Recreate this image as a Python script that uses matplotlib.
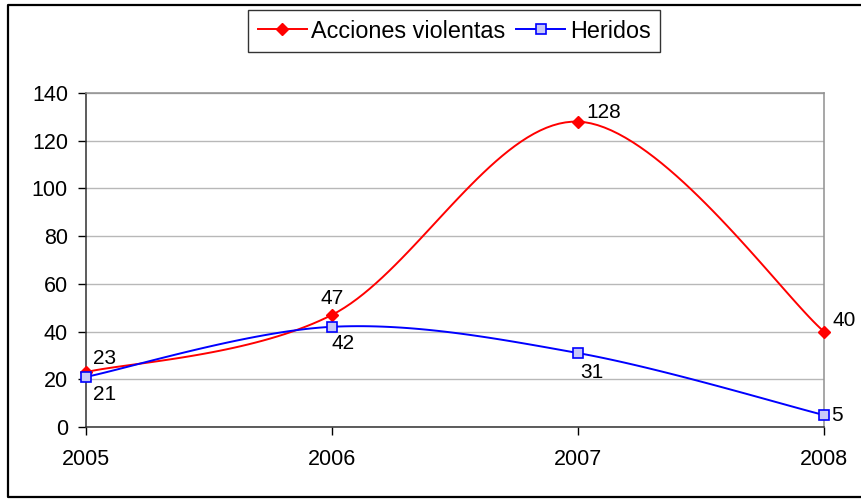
import numpy as np
import matplotlib.pyplot as plt
from matplotlib.lines import Line2D

plt.rcParams['font.family'] = ['Liberation Sans', 'DejaVu Sans']

years = [2005, 2006, 2007, 2008]
acciones = [23, 47, 128, 40]
heridos = [21, 42, 31, 5]


def smooth(xs, ys, n=40):
    # Excel-like smoothing: cubic Bezier segments with Catmull-Rom control points
    xs = np.asarray(xs, float)
    ys = np.asarray(ys, float)
    px = np.concatenate(([xs[0]], xs, [xs[-1]]))
    py = np.concatenate(([ys[0]], ys, [ys[-1]]))
    out_x, out_y = [], []
    t = np.linspace(0, 1, n)
    for i in range(1, len(xs)):
        p0 = np.array([px[i], py[i]])
        p3 = np.array([px[i + 1], py[i + 1]])
        c1 = p0 + (p3 - np.array([px[i - 1], py[i - 1]])) / 6
        c2 = p3 - (np.array([px[i + 2], py[i + 2]]) - p0) / 6
        for k in range(2):
            pts = ((1 - t) ** 3 * p0[k] + 3 * (1 - t) ** 2 * t * c1[k]
                   + 3 * (1 - t) * t ** 2 * c2[k] + t ** 3 * p3[k])
            (out_x if k == 0 else out_y).extend(pts)
    return out_x, out_y


W, H = 861, 499
fig = plt.figure(figsize=(W / 100, H / 100), dpi=100)
ax = fig.add_axes([86 / W, 1 - 427 / H, (824 - 86) / W, (427 - 93) / H])

# outer chart border (right side is cut off in the original)
bx = [900 / W, 8 / W, 8 / W, 900 / W]
by = [1 - 5 / H, 1 - 5 / H, 1 - 497 / H, 1 - 497 / H]
fig.add_artist(Line2D(bx, by, transform=fig.transFigure, color='black', lw=1.6))

red = '#ff0000'
blue = '#0000ff'
sq_fill = '#c8c8f8'

sx, sy = smooth(years, acciones)
ax.plot(sx, sy, color=red, lw=1.4, zorder=3)
ax.plot(years, acciones, ls='none', marker='D', ms=6.6, color=red, zorder=4, clip_on=False)
sx, sy = smooth(years, heridos)
ax.plot(sx, sy, color=blue, lw=1.4, zorder=3)
ax.plot(years, heridos, ls='none', marker='s', ms=7, mfc=sq_fill,
        mec=blue, mew=1.2, zorder=4, clip_on=False)

# legend proxies
ax.plot([], [], color=red, lw=1.4, marker='D', ms=6.6, label='Acciones violentas')
ax.plot([], [], color=blue, lw=1.4, marker='s', ms=7, mfc=sq_fill,
        mec=blue, mew=1.2, label='Heridos')
handles, labels = ax.get_legend_handles_labels()
leg = fig.legend(handles, labels, loc='center', bbox_to_anchor=(454 / W, 1 - 31 / H),
                 ncol=2, fontsize=16.8, frameon=True, fancybox=False,
                 edgecolor='black', handlelength=2.1, handletextpad=0.2,
                 columnspacing=0.45, borderpad=0.42, borderaxespad=0)
leg.get_frame().set_linewidth(1.0)

# data labels
offsets_a = [(5, 3, 'left', 'bottom'), (0, 5, 'center', 'bottom'),
             (6, 0, 'left', 'bottom'), (6, 1, 'left', 'bottom')]
offsets_h = [(5, -6, 'left', 'top'), (8, -5, 'center', 'top'),
             (10, -7, 'center', 'top'), (5, 0, 'left', 'center')]
for x, y, (dx, dy, ha, va) in zip(years, acciones, offsets_a):
    ax.annotate(str(y), (x, y), xytext=(dx, dy), textcoords='offset points',
                ha=ha, va=va, fontsize=15)
for x, y, (dx, dy, ha, va) in zip(years, heridos, offsets_h):
    ax.annotate(str(y), (x, y), xytext=(dx, dy), textcoords='offset points',
                ha=ha, va=va, fontsize=15)

ax.set_xlim(2005, 2008)
ax.set_ylim(0, 140)
ax.set_xticks(years)
ax.set_yticks(range(0, 141, 20))
ax.yaxis.grid(True, color='#b8b8b8', lw=1.0)
ax.set_axisbelow(True)
for s in ['top', 'right']:
    ax.spines[s].set_color('#909090')
for s in ['left', 'bottom']:
    ax.spines[s].set_color('#303030')
for spine in ax.spines.values():
    spine.set_linewidth(1.1)
ax.tick_params(axis='both', labelsize=15.5, color='black', length=6, width=1)
ax.tick_params(axis='x', pad=10)
ax.tick_params(axis='y', pad=7)

fig.savefig('out.png', dpi=100)
